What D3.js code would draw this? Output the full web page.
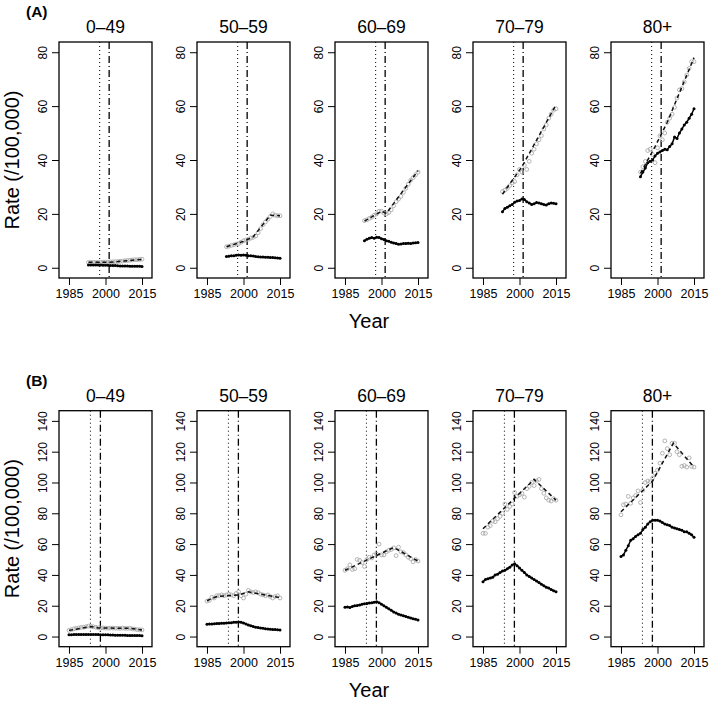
<!DOCTYPE html>
<html><head><meta charset="utf-8">
<script src="https://cdn.jsdelivr.net/npm/d3@7"></script>
<style>
body{margin:0;background:#fff;}
svg{display:block;font-family:"Liberation Sans",Arial,Helvetica,sans-serif;}
</style></head>
<body><svg id="c" width="709" height="704"></svg>
<script>
const ageGroups = ["0–49","50–59","60–69","70–79","80+"];
const panelLabels = ["(A)","(B)"];
const xTicks = [1985, 2000, 2015];
const yTicksA = [0, 20, 40, 60, 80];
const yTicksB = [0, 20, 40, 60, 80, 100, 120, 140];
const yearsA = [1993,1994,1995,1996,1997,1998,1999,2000,2001,2002,2003,2004,2005,2006,2007,2008,2009,2010,2011,2012,2013,2014,2015];
const yearsB = [1985,1986,1987,1988,1989,1990,1991,1992,1993,1994,1995,1996,1997,1998,1999,2000,2001,2002,2003,2004,2005,2006,2007,2008,2009,2010,2011,2012,2013,2014,2015];
// change points (dotted, dash-dot)
const changeA = [1997.6, 2001.5];
const changeB = [1993.8, 1997.9];

// Panel A: black series (solid)
const blackA = [
 [1.0,1.0,1.0,1.0,1.0,1.0,0.95,0.9,0.9,0.85,0.8,0.8,0.75,0.7,0.7,0.7,0.65,0.6,0.6,0.6,0.55,0.55,0.5],
 [4.2,4.3,4.5,4.5,4.6,4.7,4.6,4.7,4.6,4.5,4.5,4.4,4.2,4.1,4.0,4.0,3.9,3.9,3.8,3.8,3.7,3.6,3.5],
 [10.0,10.6,11.0,11.2,11.0,11.3,11.2,10.8,10.5,10.0,9.8,9.5,9.2,9.0,8.7,8.8,9.0,9.0,9.1,9.0,9.2,9.3,9.4],
 [20.8,22.0,22.5,23.0,23.5,24.3,24.8,25.0,25.5,25.3,24.5,24.0,23.5,23.8,24.2,24.0,23.8,23.5,23.3,23.8,24.0,23.9,23.8],
 [33.8,35.5,37.0,39.0,39.5,40.0,41.5,42.5,43.0,43.5,44.0,43.8,45.0,46.0,48.5,48.0,50.0,51.5,53.0,54.0,55.5,57.0,59.0]
];
// Panel A: grey observed series (open circles)
const greyA = [
 [2.0,2.0,2.0,2.0,2.0,2.0,2.1,2.1,2.1,2.2,2.2,2.3,2.3,2.4,2.5,2.6,2.7,2.8,2.9,3.0,3.0,3.1,3.2],
 [7.8,8.0,8.3,8.5,8.8,9.0,9.5,10.0,10.3,10.6,11.0,11.3,11.8,13.0,14.5,16.0,17.0,18.0,19.0,20.0,19.5,19.3,19.3],
 [17.5,17.8,18.3,18.8,19.5,20.0,21.0,21.0,20.3,20.0,20.5,21.5,23.0,24.5,25.5,26.5,28.0,29.5,31.0,32.5,33.5,34.5,35.5],
 [28.3,28.8,29.5,30.5,31.5,32.0,34.5,36.5,35.5,38.0,36.5,39.5,42.5,44.0,46.0,47.5,49.0,51.5,53.0,55.5,57.0,58.5,59.0],
 [35.5,37.5,39.5,43.5,44.0,42.0,39.0,44.5,49.0,47.5,50.0,54.0,55.5,57.0,59.5,63.0,66.0,66.5,69.0,71.5,74.0,76.5,76.5]
];
// Panel A: fitted trend for grey series (dashed), knots [year, value]
const fitA = [
 [[1993,2.0],[2001,2.0],[2015,3.1]],
 [[1993,7.8],[2000,9.8],[2004,11.5],[2011,19.5],[2015,19.3]],
 [[1993,17.3],[2000,21.0],[2002,20.2],[2015,36.0]],
 [[1993,27.3],[2001,37.5],[2015,60.5]],
 [[1993,35.0],[1999,45.0],[2004,54.0],[2015,78.0]]
];
// Panel B
const blackB = [
 [1.2,1.2,1.3,1.3,1.3,1.4,1.4,1.4,1.4,1.4,1.4,1.3,1.3,1.2,1.2,1.1,1.1,1.0,1.0,0.9,0.9,0.8,0.8,0.8,0.7,0.7,0.7,0.6,0.6,0.6,0.5],
 [8.0,8.1,8.2,8.3,8.4,8.5,8.6,8.7,8.8,8.9,9.0,9.2,9.3,9.4,9.2,8.8,8.2,7.5,7.0,6.5,6.1,5.8,5.5,5.3,5.1,4.9,4.8,4.6,4.5,4.4,4.3],
 [19.0,19.2,18.8,19.5,20.0,20.2,20.5,21.0,21.2,21.5,21.8,22.0,22.3,22.6,22.0,21.0,20.0,19.0,18.0,17.0,16.0,15.2,14.5,14.0,13.5,13.0,12.5,12.0,11.6,11.2,10.8],
 [35.5,37.0,37.5,38.0,38.5,40.0,40.5,41.5,42.5,43.0,44.0,45.0,46.5,47.2,46.0,44.5,43.0,41.5,40.0,39.0,38.0,37.0,36.0,35.0,34.0,33.0,32.0,31.5,30.5,29.8,29.0],
 [52.0,53.0,56.0,59.0,62.5,63.5,65.0,66.0,67.0,69.5,71.0,73.0,74.5,75.5,75.5,75.5,75.0,74.0,73.0,72.5,72.0,71.0,70.5,70.0,69.5,69.0,68.0,68.0,67.0,66.0,64.5]
];
const greyB = [
 [4.0,4.5,5.0,5.3,5.6,5.9,6.1,6.4,6.8,6.6,6.3,6.0,5.7,5.5,5.6,5.5,5.4,5.5,5.5,5.4,5.4,5.3,5.5,5.3,5.2,5.4,5.0,4.8,4.5,4.4,4.3],
 [23,23.5,25.5,25,26.5,26.5,27,26.5,27,27.5,27,26.5,28,29,26.5,25,27.5,30,29,28.5,29,28.5,27.5,27,26.5,27,26,25,26,26.5,25],
 [43,44,46.5,43.5,44,50,49.5,48,45.5,50,51.5,51,53,53.5,60,53,53,55,56,56.5,57.5,52.5,58,55,54.5,53,51.5,50.5,48.5,50,49],
 [67,67,71,72,75,74.5,76.5,78,80,86,82.5,84.5,86,93.5,91,92,93,90.5,96,97.5,100,98,101,102,96,93,90,88.5,88,89.5,88.5],
 [79,85.5,86,91,86.5,90,91.5,94.5,87,95,100,101,100.5,103,106,108,112.5,119,127,122,118,125.5,125.5,120,118,110.5,111,110,116,110.5,110]
];
const fitB = [
 [[1985,4.0],[1994,6.5],[1997,5.6],[2010,5.3],[2015,4.3]],
 [[1985,23.2],[1989,26.0],[1998,27.0],[2002,29.0],[2015,25.3]],
 [[1985,43.0],[2005,57.8],[2015,49.0]],
 [[1985,70.0],[2006,102.0],[2015,88.5]],
 [[1985,81.0],[1998,101.0],[2006.5,125.5],[2015,110.0]]
];

const rows = [
 {label: panelLabels[0], years: yearsA, black: blackA, grey: greyA, fit: fitA, change: changeA,
  yTicks: yTicksA, yDomain: [-3.8, 83.8], top: 42, bottom: 278},
 {label: panelLabels[1], years: yearsB, black: blackB, grey: greyB, fit: fitB, change: changeB,
  yTicks: yTicksB, yDomain: [-6.6, 146.6], top: 410.7, bottom: 646.7}
];

const svg = d3.select("#c");
const panelLefts = [59, 197, 335, 473, 611];
const pw = 93;
const xDomain = [1980.9, 2019.1];

rows.forEach((row, ri) => {
  const y = d3.scaleLinear().domain(row.yDomain).range([row.bottom, row.top]);
  svg.append("text").attr("x", 26).attr("y", row.top - 25)
    .attr("font-size", 15.5).attr("font-weight", "bold").text(row.label);
  const yc = (row.top + row.bottom) / 2;
  svg.append("text").attr("transform", `translate(19,${yc}) rotate(-90)`)
    .attr("text-anchor", "middle").attr("font-size", 20).text("Rate (/100,000)");
  svg.append("text").attr("x", 369).attr("y", row.bottom + 50)
    .attr("text-anchor", "middle").attr("font-size", 20).text("Year");

  ageGroups.forEach((ag, pi) => {
    const x0 = panelLefts[pi];
    const x = d3.scaleLinear().domain(xDomain).range([x0, x0 + pw]);
    const g = svg.append("g");
    g.append("text").attr("x", x0 + pw / 2).attr("y", row.top - 9)
      .attr("text-anchor", "middle").attr("font-size", 17.5).text(ag);
    g.append("line").attr("x1", x(row.change[0])).attr("x2", x(row.change[0]))
      .attr("y1", row.top).attr("y2", row.bottom)
      .attr("stroke", "#000").attr("stroke-width", 1).attr("stroke-dasharray", "1,3");
    g.append("line").attr("x1", x(row.change[1])).attr("x2", x(row.change[1]))
      .attr("y1", row.top).attr("y2", row.bottom)
      .attr("stroke", "#000").attr("stroke-width", 1.3).attr("stroke-dasharray", "7,3,1,3");
    const greyData = row.years.map((yr, i) => [yr, row.grey[pi][i]]);
    g.selectAll("circle.grey").data(greyData).enter().append("circle")
      .attr("class", "grey").attr("cx", d => x(d[0])).attr("cy", d => y(d[1]))
      .attr("r", 1.9).attr("fill", "none").attr("stroke", "#aaaaaa").attr("stroke-width", 0.9);
    const line = d3.line().x(d => x(d[0])).y(d => y(d[1]));
    g.append("path").attr("d", line(row.fit[pi])).attr("fill", "none")
      .attr("stroke", "#111").attr("stroke-width", 1.5).attr("stroke-dasharray", "4,3");
    const blackData = row.years.map((yr, i) => [yr, row.black[pi][i]]);
    g.append("path").attr("d", line(blackData)).attr("fill", "none")
      .attr("stroke", "#000").attr("stroke-width", 1.5);
    g.selectAll("circle.blk").data(blackData).enter().append("circle")
      .attr("class", "blk").attr("cx", d => x(d[0])).attr("cy", d => y(d[1]))
      .attr("r", 1.5).attr("fill", "#000");
    const ya = d3.axisLeft(y).tickValues(row.yTicks).tickSize(7).tickPadding(3).tickFormat(d3.format("d"));
    const yg = g.append("g").attr("transform", `translate(${x0},0)`).call(ya);
    yg.select(".domain").remove();
    yg.selectAll("text").attr("transform", "rotate(-90)").attr("text-anchor", "middle")
      .attr("x", 0).attr("dy", 0).attr("y", -12).attr("font-size", 12)
      .attr("font-family", "Liberation Sans, Arial, sans-serif").attr("fill", "#000");
    yg.selectAll("line").attr("stroke", "#000");
    const xa = d3.axisBottom(x).tickValues(xTicks).tickSize(7).tickPadding(3).tickFormat(d3.format("d"));
    const xg = g.append("g").attr("transform", `translate(0,${row.bottom})`).call(xa);
    xg.select(".domain").remove();
    xg.selectAll("text").attr("font-size", 12.5).attr("dy", 0).attr("y", 20)
      .attr("font-family", "Liberation Sans, Arial, sans-serif").attr("fill", "#000");
    xg.selectAll("line").attr("stroke", "#000");
    g.append("rect").attr("x", x0).attr("y", row.top).attr("width", pw)
      .attr("height", row.bottom - row.top).attr("fill", "none")
      .attr("stroke", "#000").attr("stroke-width", 1.3);
  });
});
</script></body></html>
